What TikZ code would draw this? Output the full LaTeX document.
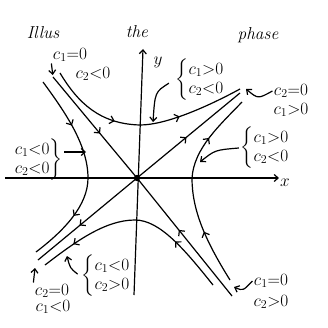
\documentclass[tikz,border=0pt]{standalone}
\usepackage{amsmath,amssymb}
\usepackage{tikz}
\usetikzlibrary{arrows.meta,decorations.markings}

\begin{document}
\begin{tikzpicture}[x=1pt,y=-1pt,line width=1.2pt,font=\LARGE,
  tip/.style={-{Straight Barb[length=4pt,width=7pt]}},
  flow/.style={postaction={decorate},decoration={markings,
    mark=at position #1 with {\arrow{Straight Barb[length=4pt,width=8pt]}}}},
  flowtwo/.style 2 args={postaction={decorate},decoration={markings,
    mark=at position #1 with {\arrow{Straight Barb[length=4pt,width=8pt]}},
    mark=at position #2 with {\arrow{Straight Barb[length=4pt,width=8pt]}}}},
  lab/.style={inner sep=1pt},
  title/.style={font=\LARGE\itshape}]
\def\arraystretch{0.85}
\useasboundingbox (0,0) rectangle (327,328);
\node[title] (til) at (43,33) {Illus};
\node[title] (tth) at (137,32) {the};
\node[title] (tph) at (258,35) {phase};
\coordinate (O) at (137,178);
\coordinate (xa) at (5,178);
\coordinate (xb) at (279,178);
\coordinate (ya) at (134,295);
\coordinate (yb) at (143,49);
\draw[tip] (xa) -- (xb);
\draw[tip] (ya) -- (yb);
\node (xl) at (285,183) {$x$};
\node (yl) at (158,62) {$y$};
\fill (O) circle (3.2);
\coordinate (sa) at (53,77);
\coordinate (sb) at (232,296);
\coordinate (ua) at (240,93);
\coordinate (ub) at (38,260);
\draw[flow=0.56] (sa) -- (O);
\draw[flow=0.56] (sb) -- (O);
\draw[flow=0.48] (O) -- (ua);
\draw[flow=0.58] (O) -- (ub);
\draw[flowtwo={0.36}{0.68}] (60,73) .. controls (78,103) and (100,124) .. (140,125)
  .. controls (165,125) and (205,108) .. (240,89);
\draw[flowtwo={0.28}{0.83}] (213,285) .. controls (185,250) and (160,220) .. (135,220)
  .. controls (105,220) and (75,242) .. (45,265);
\draw[flowtwo={0.26}{0.74}] (43,82) .. controls (65,112) and (88,145) .. (88,178)
  .. controls (88,205) and (65,230) .. (36,252);
\draw[flowtwo={0.27}{0.76}] (230,280) .. controls (205,240) and (192,210) .. (192,178)
  .. controls (194,148) and (220,125) .. (242,102);
\node[lab] (ula) at (70,55) {$c_1{=}0$};
\node[lab] (ulb) at (93,74) {$c_2{<}0$};
\node[lab] (ura) at (291,91) {$c_2{=}0$};
\node[lab] (urb) at (291,110) {$c_1{>}0$};
\node[lab] (lra) at (271,281) {$c_1{=}0$};
\node[lab] (lrb) at (271,302) {$c_2{>}0$};
\node[lab] (lla) at (52,291) {$c_2{=}0$};
\node[lab] (llb) at (53,307) {$c_1{<}0$};
\node[lab] (tb) at (200,80) {$\left\{\begin{array}{@{}l@{}}c_1{>}0\\c_2{<}0\end{array}\right.$};
\node[lab] (rb) at (265,148) {$\left\{\begin{array}{@{}l@{}}c_1{>}0\\c_2{<}0\end{array}\right.$};
\node[lab] (bb) at (106,276) {$\left\{\begin{array}{@{}l@{}}c_1{<}0\\c_2{>}0\end{array}\right.$};
\node[lab] (lb) at (38,160) {$\left.\begin{array}{@{}l@{}}c_1{<}0\\c_2{<}0\end{array}\right\}$};
\coordinate (pur) at (246,89);
\coordinate (plr) at (234,287);
\coordinate (pll) at (35,268);
\coordinate (ptb) at (153,122);
\coordinate (prb) at (200,162);
\coordinate (pbb) at (67,256);
\coordinate (plb) at (86,152);
\draw[tip,shorten >=2pt] (ula.south west) -- (sa);
\draw[tip] (ura.west) .. controls (258,99) .. (pur);
\draw[tip] (lra.west) .. controls (243,291) .. (plr);
\draw[tip] (lla.north west) -- (pll);
\draw[tip,shorten <=6pt] (tb.west) .. controls (155,92) .. (ptb);
\draw[tip] (rb.west) .. controls (215,150) .. (prb);
\draw[tip,shorten <=3pt] (bb.west) .. controls (70,268) .. (pbb);
\draw[tip] ([yshift=8pt]lb.east) -- (plb);
\end{tikzpicture}
\end{document}
